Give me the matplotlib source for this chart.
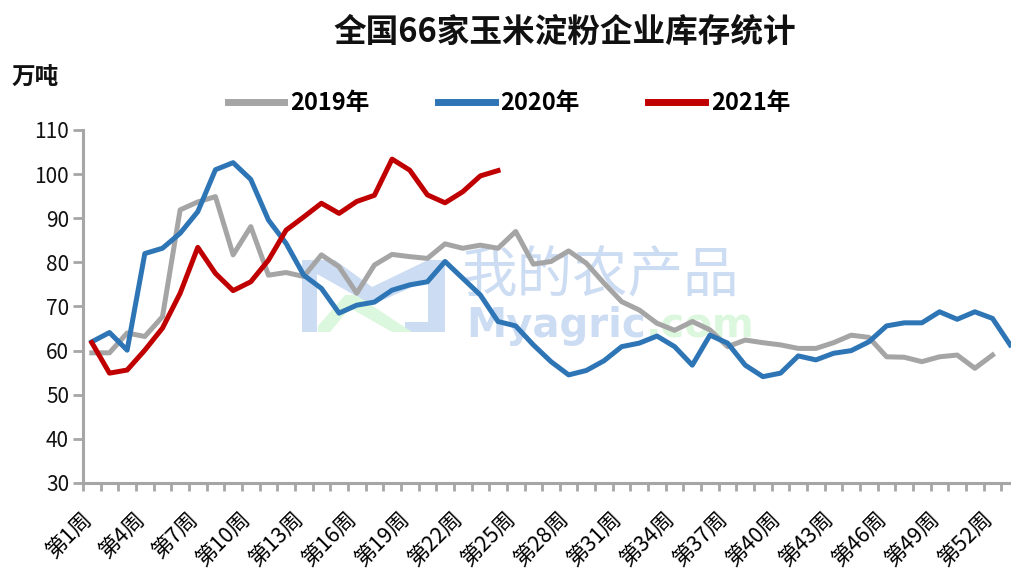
import matplotlib
matplotlib.use('Agg')
import matplotlib.pyplot as plt
import matplotlib.transforms as mtransforms
from matplotlib.patches import Polygon
from matplotlib.ticker import FixedLocator, NullFormatter

plt.rcParams['font.family'] = ['Noto Sans CJK SC', 'DejaVu Sans']

# weeks on the category axis (2020 had 53 weeks)
weeks = ['第%d周' % i for i in range(1, 54)]

inv_2019 = [59.5, 59.5, 64, 63.2, 67.7, 91.9, 93.7, 94.9, 81.7, 88.1,
            77.1, 77.7, 76.8, 81.7, 79, 73, 79.4, 81.8, 81.3, 80.9,
            84.2, 83.2, 83.9, 83.2, 87, 79.6, 80.2, 82.6, 79.8, 75.3,
            71.1, 69.2, 66.2, 64.6, 66.6, 64.7, 60.9, 62.4, 61.8, 61.3,
            60.5, 60.5, 61.8, 63.5, 63, 58.6, 58.5, 57.5, 58.6, 59,
            56, 59]
inv_2020 = [62, 64.1, 60.1, 82, 83.2, 86.6, 91.5, 101, 102.6, 98.8,
            89.6, 84.3, 77.1, 74.1, 68.5, 70.3, 71, 73.7, 74.9, 75.6,
            80.2, 76.4, 72.6, 66.6, 65.6, 61.3, 57.5, 54.5, 55.5, 57.7,
            60.9, 61.7, 63.3, 60.9, 56.7, 63.5, 61.7, 56.7, 54.1, 54.9,
            58.8, 57.9, 59.4, 60, 62, 65.6, 66.3, 66.3, 68.8, 67.1,
            68.8, 67.3, 61.3]
inv_2021 = [61.8, 54.9, 55.6, 60.1, 65.1, 73, 83.4, 77.5, 73.6, 75.6,
            80.5, 87.3, 90.3, 93.4, 91.1, 93.8, 95.2, 103.4, 100.9, 95.3,
            93.5, 96, 99.6, 100.8]
y_ticks = [30, 40, 50, 60, 70, 80, 90, 100, 110]

W, H = 1012, 572
fig = plt.figure(figsize=(W / 100, H / 100), dpi=100)
# plot area runs a little past the right edge, like the cropped original
ax = fig.add_axes([83 / W, 1 - 483 / H, 936 / W, 353 / H])

axis_col = '#A6A6A6'

def px(x, y):
    # pixel position (from top-left) -> figure fraction
    return (x / W, 1 - y / H)

# watermark (logo + site name), kept under the lines
wm_blue = '#CCDCF3'
wm_green = '#DBF7DD'
logo_blue = [(302, 260), (335, 260), (372, 287), (428, 260), (445, 260),
             (445, 332), (405, 332), (405, 322), (428, 322), (428, 280),
             (372, 305), (317, 274), (317, 332), (302, 332)]
logo_green = [(318, 326), (345, 295), (356, 295), (412, 332), (392, 332),
              (350, 308), (330, 332), (318, 332)]
ax.add_patch(Polygon([px(*p) for p in logo_blue], closed=True,
                     transform=fig.transFigure, fc=wm_blue, ec='none', zorder=0))
ax.add_patch(Polygon([px(*p) for p in logo_green], closed=True,
                     transform=fig.transFigure, fc=wm_green, ec='none', zorder=0))
ax.text(*px(462, 276), '我的农产品', transform=fig.transFigure, fontsize=40,
        color=wm_blue, va='center', ha='left', zorder=0)
t1 = ax.text(*px(466, 326), 'Myagric', transform=fig.transFigure, fontsize=29,
             color=wm_blue, va='center', ha='left', zorder=0,
             fontweight='bold', family='DejaVu Sans')
r = fig.canvas.get_renderer()
x_end = t1.get_window_extent(r).x1
ax.text(x_end / fig.bbox.width, 1 - 326 / H, '.com', transform=fig.transFigure,
        fontsize=29, color=wm_green, va='center', ha='left', zorder=0,
        fontweight='bold', family='DejaVu Sans')

x19 = range(len(inv_2019))
x20 = range(len(inv_2020))
x21 = range(len(inv_2021))
l19, = ax.plot(x19, inv_2019, color='#A5A5A5', lw=3.6, label='2019年', zorder=3)
l20, = ax.plot(x20, inv_2020, color='#2E75B6', lw=3.6, label='2020年', zorder=4)
l21, = ax.plot(x21, inv_2021, color='#C00000', lw=3.6, label='2021年', zorder=5)

ax.set_xlim(-0.5, len(weeks) - 0.5)
ax.set_ylim(30, 110)
ax.set_yticks(y_ticks)
ax.tick_params(axis='y', length=7, width=2, color=axis_col, labelsize=15,
               labelcolor='#111111', pad=3)

lab_pos = list(range(0, len(weeks), 3))
ax.set_xticks(lab_pos)
ax.set_xticklabels([weeks[i] for i in lab_pos], rotation=45, ha='right',
                   va='center', rotation_mode='anchor', fontsize=15.5)
ax.tick_params(axis='x', which='major', length=0, pad=23)
shift = mtransforms.ScaledTranslation(-3 / 100, 0, fig.dpi_scale_trans)
for lab in ax.get_xticklabels():
    lab.set_transform(lab.get_transform() + shift)
ax.xaxis.set_minor_locator(FixedLocator([i + 0.5 for i in range(-1, len(weeks))]))
ax.xaxis.set_minor_formatter(NullFormatter())
ax.tick_params(axis='x', which='minor', length=6, width=2, color=axis_col)

for s in ['top', 'right']:
    ax.spines[s].set_visible(False)
for s in ['left', 'bottom']:
    ax.spines[s].set_color(axis_col)
    ax.spines[s].set_linewidth(2.2)

fig.text(*px(565, 32), '全国66家玉米淀粉企业库存统计', fontsize=23.5,
         fontweight='bold', ha='center', va='center', color='#111111')
fig.text(*px(12, 78), '万吨', fontsize=17, fontweight='bold',
         ha='left', va='center', color='#111111')

leg = fig.legend(handles=[l19, l20, l21], loc='center', ncol=3,
                 bbox_to_anchor=px(509, 103), frameon=False,
                 prop={'size': 17, 'weight': 'bold'}, handlelength=2.4,
                 columnspacing=2.9, handletextpad=0.25)
for h in leg.legend_handles:
    h.set_linewidth(5)

fig.savefig('out.png', dpi=100)
